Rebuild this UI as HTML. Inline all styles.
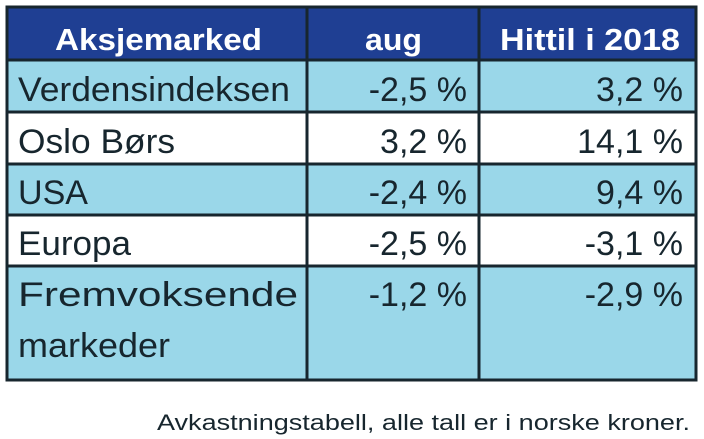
<!DOCTYPE html>
<html><head><meta charset="utf-8"><style>body{margin:0;background:#fff}svg{display:block}</style></head>
<body>
<svg width="704" height="439" viewBox="0 0 704 439" xmlns="http://www.w3.org/2000/svg" font-family="Liberation Sans, sans-serif">
<rect x="0" y="0" width="704" height="439" fill="#fff"/>
<rect x="7" y="7" width="689" height="53" fill="#1f3f93"/>
<rect x="7" y="60" width="689" height="52" fill="#9ad7e9"/>
<rect x="7" y="164" width="689" height="51" fill="#9ad7e9"/>
<rect x="7" y="266" width="689" height="114" fill="#9ad7e9"/>
<g stroke="#17262e" stroke-width="3" fill="none">
<rect x="7" y="7" width="689" height="373"/>
<line x1="307" y1="7" x2="307" y2="380"/>
<line x1="479" y1="7" x2="479" y2="380"/>
<line x1="7" y1="60" x2="696" y2="60"/>
<line x1="7" y1="112" x2="696" y2="112"/>
<line x1="7" y1="164" x2="696" y2="164"/>
<line x1="7" y1="215" x2="696" y2="215"/>
<line x1="7" y1="266" x2="696" y2="266"/>
</g>
<g fill="#fff" font-size="31" font-weight="bold">
<text x="55" y="50" textLength="207" lengthAdjust="spacingAndGlyphs">Aksjemarked</text>
<text x="365" y="50" textLength="57" lengthAdjust="spacingAndGlyphs">aug</text>
<text x="500" y="50" textLength="180" lengthAdjust="spacingAndGlyphs">Hittil i 2018</text>
</g>
<g fill="#17262e" font-size="34">
<text x="18" y="101" textLength="272" lengthAdjust="spacingAndGlyphs">Verdensindeksen</text>
<text x="18" y="153" textLength="157" lengthAdjust="spacingAndGlyphs">Oslo Børs</text>
<text x="18" y="204" textLength="70" lengthAdjust="spacingAndGlyphs">USA</text>
<text x="18" y="255" textLength="113" lengthAdjust="spacingAndGlyphs">Europa</text>
<text x="18" y="306" textLength="280" lengthAdjust="spacingAndGlyphs">Fremvoksende</text>
<text x="18" y="357" textLength="152" lengthAdjust="spacingAndGlyphs">markeder</text>
<g text-anchor="end">
<text x="467" y="101">-2,5 %</text>
<text x="467" y="153">3,2 %</text>
<text x="467" y="204">-2,4 %</text>
<text x="467" y="255">-2,5 %</text>
<text x="467" y="306">-1,2 %</text>
<text x="683" y="101">3,2 %</text>
<text x="683" y="153">14,1 %</text>
<text x="683" y="204">9,4 %</text>
<text x="683" y="255">-3,1 %</text>
<text x="683" y="306">-2,9 %</text>
</g>
</g>
<text x="157" y="430" font-size="22" fill="#17262e" textLength="533" lengthAdjust="spacingAndGlyphs">Avkastningstabell, alle tall er i norske kroner.</text>
</svg>
</body></html>
